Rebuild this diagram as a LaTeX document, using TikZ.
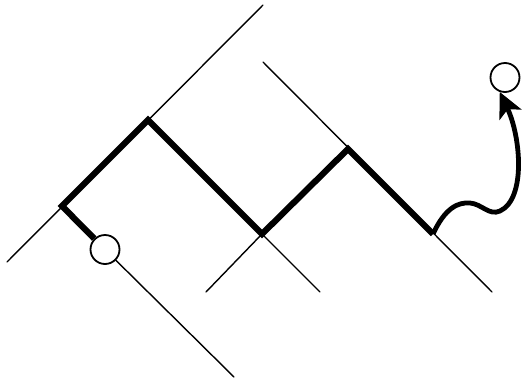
\documentclass[tikz,border=0pt]{standalone}
\usetikzlibrary{arrows.meta}
\begin{document}
\begin{tikzpicture}[x=1pt,y=-1pt,
  thinline/.style={line width=1.4pt,line cap=round},
  thickline/.style={line width=6.2pt,line join=miter},
  ring/.style={circle,draw,line width=1.8pt,fill=white,inner sep=0pt,minimum size=29pt},
  wave/.style={line width=4.8pt,-{Stealth[length=25pt,width=24pt,inset=6pt]}}]
\useasboundingbox (0,0) rectangle (523,381);
% coordinates
\coordinate (l1s) at (7,262);
\coordinate (l1e) at (263,5);
\coordinate (l2s) at (263,62);
\coordinate (l2e) at (492,292);
\coordinate (a) at (62,206);
\coordinate (b) at (148,120);
\coordinate (c) at (262,234);
\coordinate (d) at (348,149);
\coordinate (f) at (433,234);
\coordinate (cl) at (206,292);
\coordinate (cr) at (320,292);
\coordinate (e) at (234,377);
% thin lines
\draw[thinline] (l1s) -- (l1e);
\draw[thinline] (l2s) -- (l2e);
\draw[thinline] (cl) -- (c) -- (cr);
% circles
\node[ring] (c1) at (105,249.5) {};
\node[ring] (c2) at (505,77.5) {};
\draw[thinline] (c1) -- (e);
% thick path
\draw[thickline] (c1) -- (a) -- (b) -- (c) -- (d) -- (f);
% curved arrow
\draw[wave] (f) .. controls (445,208) and (458,202) .. (470,203)
  .. controls (482,204) and (489,216) .. (500,211)
  .. controls (526,199) and (521,137) .. (c2.-110);
\end{tikzpicture}
\end{document}
